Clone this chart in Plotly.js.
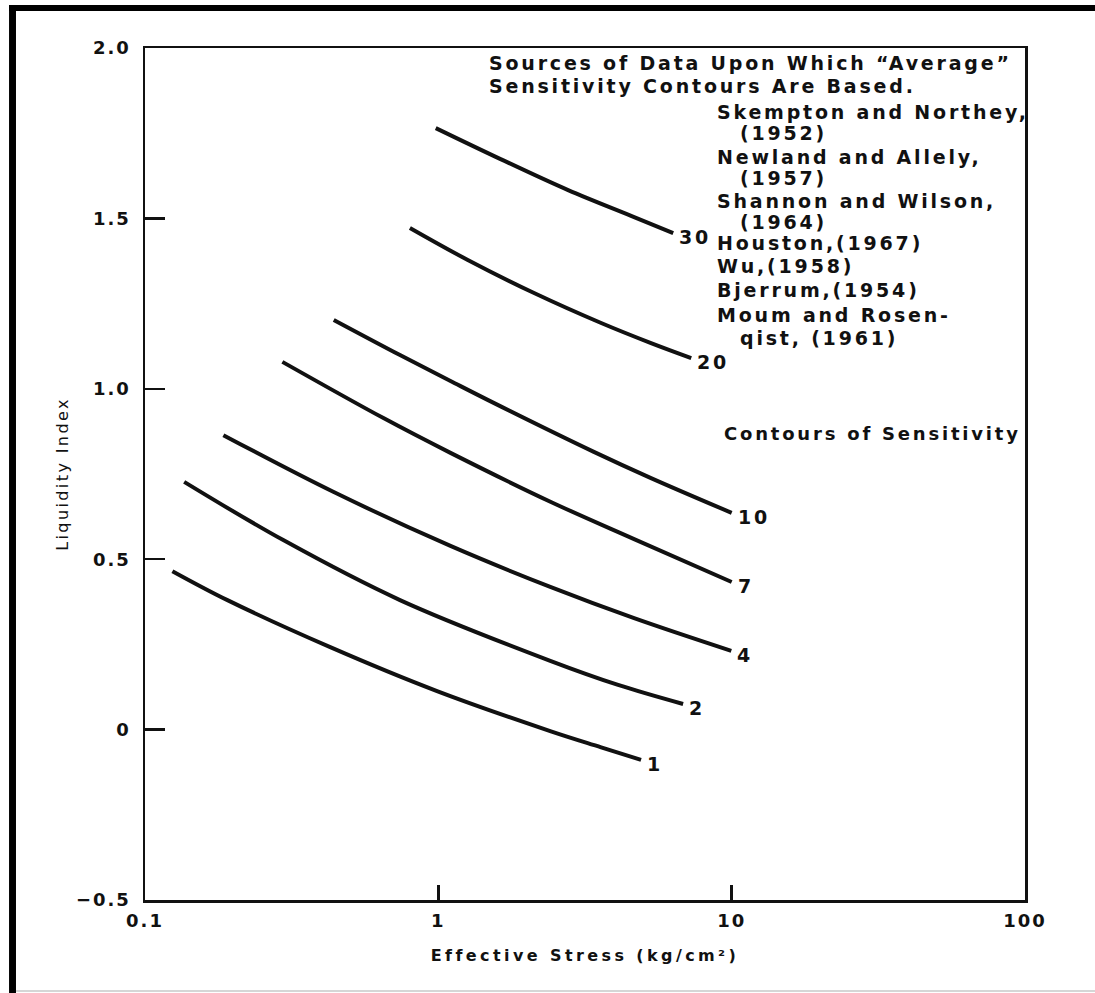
<!DOCTYPE html>
<html>
<head>
<meta charset="utf-8">
<script src="https://cdn.plot.ly/plotly-3.0.1.min.js"></script>
<style>
  html, body { margin: 0; padding: 0; background: #fff; }
  #chart { width: 1095px; height: 993px; }
  text.annotation-text { letter-spacing: 2.8px; }
  text.xtitle { letter-spacing: 3.4px; }
  text.ytitle { letter-spacing: 2.4px; }
  .xtick text, .ytick text { letter-spacing: 2px; }
</style>
</head>
<body>
<div id="chart"></div>
<script>
// Sensitivity contours: liquidity index against effective stress (kg/cm²)
const sensitivity = [30, 20, 10, 7, 4, 2, 1];

const stress30 = [0.98, 1.63, 2.77, 4.65, 6.32];
const liq30    = [1.765, 1.674, 1.583, 1.504, 1.457];

const stress20 = [0.80, 1.26, 2.12, 3.59, 5.31, 7.28];
const liq20    = [1.472, 1.378, 1.281, 1.193, 1.134, 1.090];

const stress10 = [0.44, 0.74, 1.10, 1.55, 3.39, 5.31, 10.0];
const liq10    = [1.202, 1.099, 1.023, 0.958, 0.815, 0.738, 0.636];

const stress7 = [0.294, 0.65, 1.10, 2.42, 4.65, 10.0];
const liq7    = [1.079, 0.914, 0.812, 0.668, 0.559, 0.433];

const stress4 = [0.185, 0.44, 1.10, 2.42, 4.65, 9.97];
const liq4    = [0.864, 0.697, 0.539, 0.418, 0.327, 0.231];

const stress2 = [0.136, 0.296, 0.74, 2.42, 4.10, 6.83];
const liq2    = [0.727, 0.556, 0.380, 0.201, 0.131, 0.075];

const stress1 = [0.124, 0.191, 0.428, 0.99, 2.42, 3.59, 4.91];
const liq1    = [0.465, 0.380, 0.242, 0.113, -0.005, -0.052, -0.089];

const stressSeries = [stress30, stress20, stress10, stress7, stress4, stress2, stress1];
const liqSeries    = [liq30, liq20, liq10, liq7, liq4, liq2, liq1];

const xTickVals = [0.1, 1, 10, 100];
const xTickText = ['0.1', '1', '10', '100'];
const yTickVals = [-0.5, 0, 0.5, 1.0, 1.5, 2.0];
const yTickText = ['\u22120.5', '0', '0.5', '1.0', '1.5', '2.0'];

const sourceLines = [
  'Sources of Data Upon Which \u201cAverage\u201d',
  'Sensitivity Contours Are Based.',
  'Skempton and Northey,',
  '(1952)',
  'Newland and Allely,',
  '(1957)',
  'Shannon and Wilson,',
  '(1964)',
  'Houston,(1967)',
  'Wu,(1958)',
  'Bjerrum,(1954)',
  'Moum and Rosen-',
  'qist, (1961)'
];
const contourNote = 'Contours of Sensitivity';

// left offset (paper units) for each line of the source list: heading, name, year
const lineIndent = [0.3886, 0.3886, 0.6477, 0.6739, 0.6477, 0.6739, 0.6477, 0.6739,
                    0.6477, 0.6477, 0.6477, 0.6477, 0.6739];
const lineY = [0.9824, 0.9554, 0.9249, 0.9002, 0.8721, 0.8474, 0.8204, 0.7958,
               0.7711, 0.7441, 0.7160, 0.6866, 0.6596];

const ink = '#111111';
const fontMain = { family: 'DejaVu Sans', size: 19, color: ink, weight: 'bold' };

const traces = stressSeries.map((xs, i) => ({
  type: 'scatter',
  mode: 'lines',
  x: xs,
  y: liqSeries[i],
  name: 'S = ' + sensitivity[i],
  line: { color: ink, width: 4, shape: 'spline', smoothing: 1.0 },
  hoverinfo: 'skip',
  showlegend: false
}));

const annotations = [];
// contour value next to the end of each curve
stressSeries.forEach((xs, i) => {
  const last = xs.length - 1;
  annotations.push({
    x: Math.log10(xs[last]),
    y: liqSeries[i][last],
    xref: 'x', yref: 'y',
    text: String(sensitivity[i]),
    showarrow: false,
    xanchor: 'left', yanchor: 'middle',
    xshift: 4, yshift: -4,
    font: fontMain
  });
});
sourceLines.forEach((t, i) => {
  annotations.push({
    x: lineIndent[i], y: lineY[i],
    xref: 'paper', yref: 'paper',
    text: t, showarrow: false,
    xanchor: 'left', yanchor: 'middle',
    font: fontMain
  });
});
annotations.push({
  x: 0.6557, y: 0.5481, xref: 'paper', yref: 'paper',
  text: contourNote, showarrow: false,
  xanchor: 'left', yanchor: 'middle',
  font: { family: 'DejaVu Sans', size: 18, color: ink, weight: 'bold' }
});

// outer frame: heavy rule on top and left, faint rule along the bottom
const shapes = [
  { type: 'rect', xref: 'paper', yref: 'paper', x0: -0.1545, x1: 1.08, y0: 1.0434, y1: 1.0505,
    fillcolor: '#000', line: { width: 0 } },
  { type: 'rect', xref: 'paper', yref: 'paper', x0: -0.1545, x1: -0.1466, y0: -0.11, y1: 1.0505,
    fillcolor: '#000', line: { width: 0 } },
  { type: 'line', xref: 'paper', yref: 'paper', x0: -0.1466, x1: 1.08, y0: -0.1068, y1: -0.1068,
    line: { color: '#c8c8c8', width: 1.5 } }
];

const layout = {
  width: 1095,
  height: 993,
  margin: { l: 145, r: 70, t: 48, b: 93 },
  paper_bgcolor: '#ffffff',
  plot_bgcolor: '#ffffff',
  showlegend: false,
  font: { family: 'DejaVu Sans', color: ink },
  xaxis: {
    type: 'log',
    range: [-1, 2],
    tickvals: xTickVals,
    ticktext: xTickText,
    ticks: 'inside',
    ticklen: 15,
    tickwidth: 2.5,
    tickcolor: ink,
    showgrid: false,
    zeroline: false,
    showline: true,
    mirror: true,
    linecolor: ink,
    linewidth: 2.5,
    ticklabelstandoff: 3,
    tickfont: { family: 'DejaVu Sans', size: 18, color: ink, weight: 'bold' },
    title: { text: 'Effective Stress (kg/cm\u00b2)', standoff: 20,
             font: { family: 'DejaVu Sans', size: 16, color: ink, weight: 'bold' } },
    fixedrange: true
  },
  yaxis: {
    range: [-0.5, 2.0],
    tickvals: yTickVals,
    ticktext: yTickText,
    ticks: 'inside',
    ticklen: 20,
    tickwidth: 2.5,
    tickcolor: ink,
    showgrid: false,
    zeroline: false,
    showline: true,
    mirror: true,
    linecolor: ink,
    linewidth: 2.5,
    ticklabelstandoff: 8,
    tickfont: { family: 'DejaVu Sans', size: 18, color: ink, weight: 'bold' },
    title: { text: 'Liquidity Index', standoff: 4,
             font: { family: 'DejaVu Sans', size: 16, color: ink } },
    fixedrange: true
  },
  annotations: annotations,
  shapes: shapes
};

Plotly.newPlot('chart', traces, layout, { staticPlot: true, displayModeBar: false });
</script>
</body>
</html>
